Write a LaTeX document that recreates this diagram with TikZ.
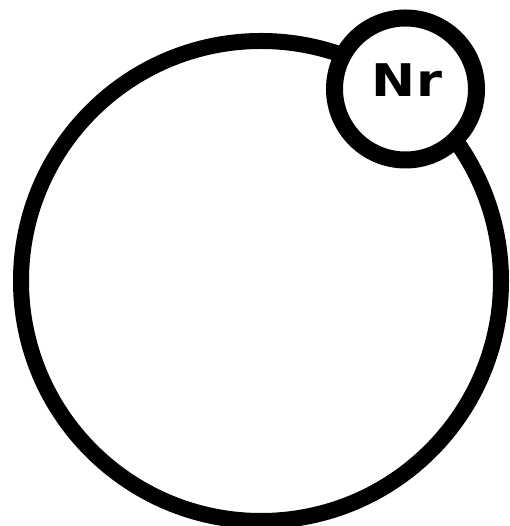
\documentclass[tikz,border=0pt]{standalone}
\usepackage{fontspec}
\setsansfont{DejaVu Sans}
\usetikzlibrary{positioning}

\begin{document}
\begin{tikzpicture}[
  x=1pt,y=1pt,
  ring/.style={draw,circle,inner sep=0pt,line width=16pt,fill=white},
  tag/.style={ring,line width=17pt,minimum size=142pt},
  sym/.style={font=\sffamily\bfseries\fontsize{45}{45}\selectfont,
              inner sep=0pt,xscale=1.17,transform shape},
]
\useasboundingbox (0,0) rectangle (509,526);

% ---- the big cell and the small badge sitting on its rim ----
\node[ring,minimum size=480pt] (cell) at (261,245) {};
\node[tag] (badge) at (405.5,437) {};
\node[sym] (label) at ([xshift=1.5pt,yshift=9pt]badge.center) {Nr};

\end{tikzpicture}
\end{document}
